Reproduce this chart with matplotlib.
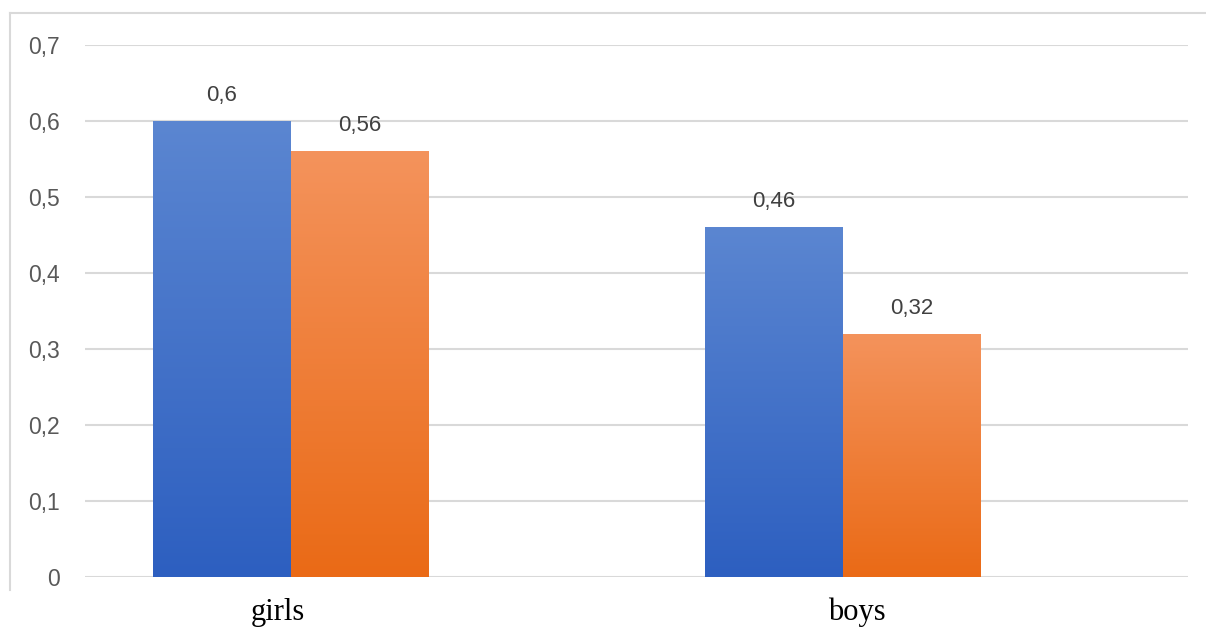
import numpy as np
import matplotlib.pyplot as plt
import matplotlib.transforms as mtransforms
from matplotlib.colors import LinearSegmentedColormap
from matplotlib.lines import Line2D

categories = ['girls', 'boys']
series_a = [0.6, 0.46]
series_b = [0.56, 0.32]
labels_a = ['0,6', '0,46']
labels_b = ['0,56', '0,32']
yticks = [0, 0.1, 0.2, 0.3, 0.4, 0.5, 0.6, 0.7]
ytick_labels = ['0', '0,1', '0,2', '0,3', '0,4', '0,5', '0,6', '0,7']

blue_grad = LinearSegmentedColormap.from_list('blue', ['#2D5FC0', '#5B86D1'])
orange_grad = LinearSegmentedColormap.from_list('orange', ['#EA6A16', '#F4935C'])

fig = plt.figure(figsize=(12.06, 6.28), dpi=100)
ax = fig.add_axes([0.0705, 0.0812, 0.9145, 0.8471])

x = np.arange(len(categories))
w = 0.25

bars_a = ax.bar(x - w / 2, series_a, w, color='none', edgecolor='none', zorder=3)
bars_b = ax.bar(x + w / 2, series_b, w, color='none', edgecolor='none', zorder=3)

# gradient fill, lighter at the top
grad = np.linspace(0, 1, 256).reshape(-1, 1)
for bars, cmap in [(bars_a, blue_grad), (bars_b, orange_grad)]:
    for b in bars:
        bx, by = b.get_x(), b.get_y()
        bw, bh = b.get_width(), b.get_height()
        im = ax.imshow(grad, cmap=cmap, origin='lower', aspect='auto',
                       extent=[bx, bx + bw, by, by + bh], zorder=3)
        im.set_clip_path(b)

for bars, labs in [(bars_a, labels_a), (bars_b, labels_b)]:
    for b, lab in zip(bars, labs):
        ax.text(b.get_x() + b.get_width() / 2, b.get_height() + 0.02, lab,
                ha='center', va='bottom', fontsize=16, color='#404040',
                family='Liberation Sans')

ax.set_xlim(-0.373, 1.625)
ax.set_ylim(0, 0.7)
ax.set_yticks(yticks)
ax.set_yticklabels(ytick_labels, fontsize=16.5, color='#595959', family='Liberation Sans')
ax.set_xticks(x)
ax.set_xticklabels(categories, fontsize=22, color='black', family='Liberation Serif')
ax.tick_params(axis='y', length=0, pad=18)
ax.tick_params(axis='x', length=0, pad=15)

# the category labels sit a little off the bar-group centres in the original
for lbl, dx in zip(ax.get_xticklabels(), [-13, 14]):
    lbl.set_transform(lbl.get_transform() + mtransforms.ScaledTranslation(dx / 100, 0, fig.dpi_scale_trans))

ax.grid(axis='y', color='#D9D9D9', linewidth=1.5, zorder=0)
for s in ax.spines.values():
    s.set_visible(False)

# outer chart frame (left and top edges visible)
fig.add_artist(Line2D([10 / 1206, 10 / 1206], [1 - 590 / 628, 1 - 13 / 628],
                      color='#D9D9D9', linewidth=1.5))
fig.add_artist(Line2D([10 / 1206, 1.0], [1 - 13 / 628, 1 - 13 / 628],
                      color='#D9D9D9', linewidth=1.5))

fig.savefig('out.png', dpi=100)
